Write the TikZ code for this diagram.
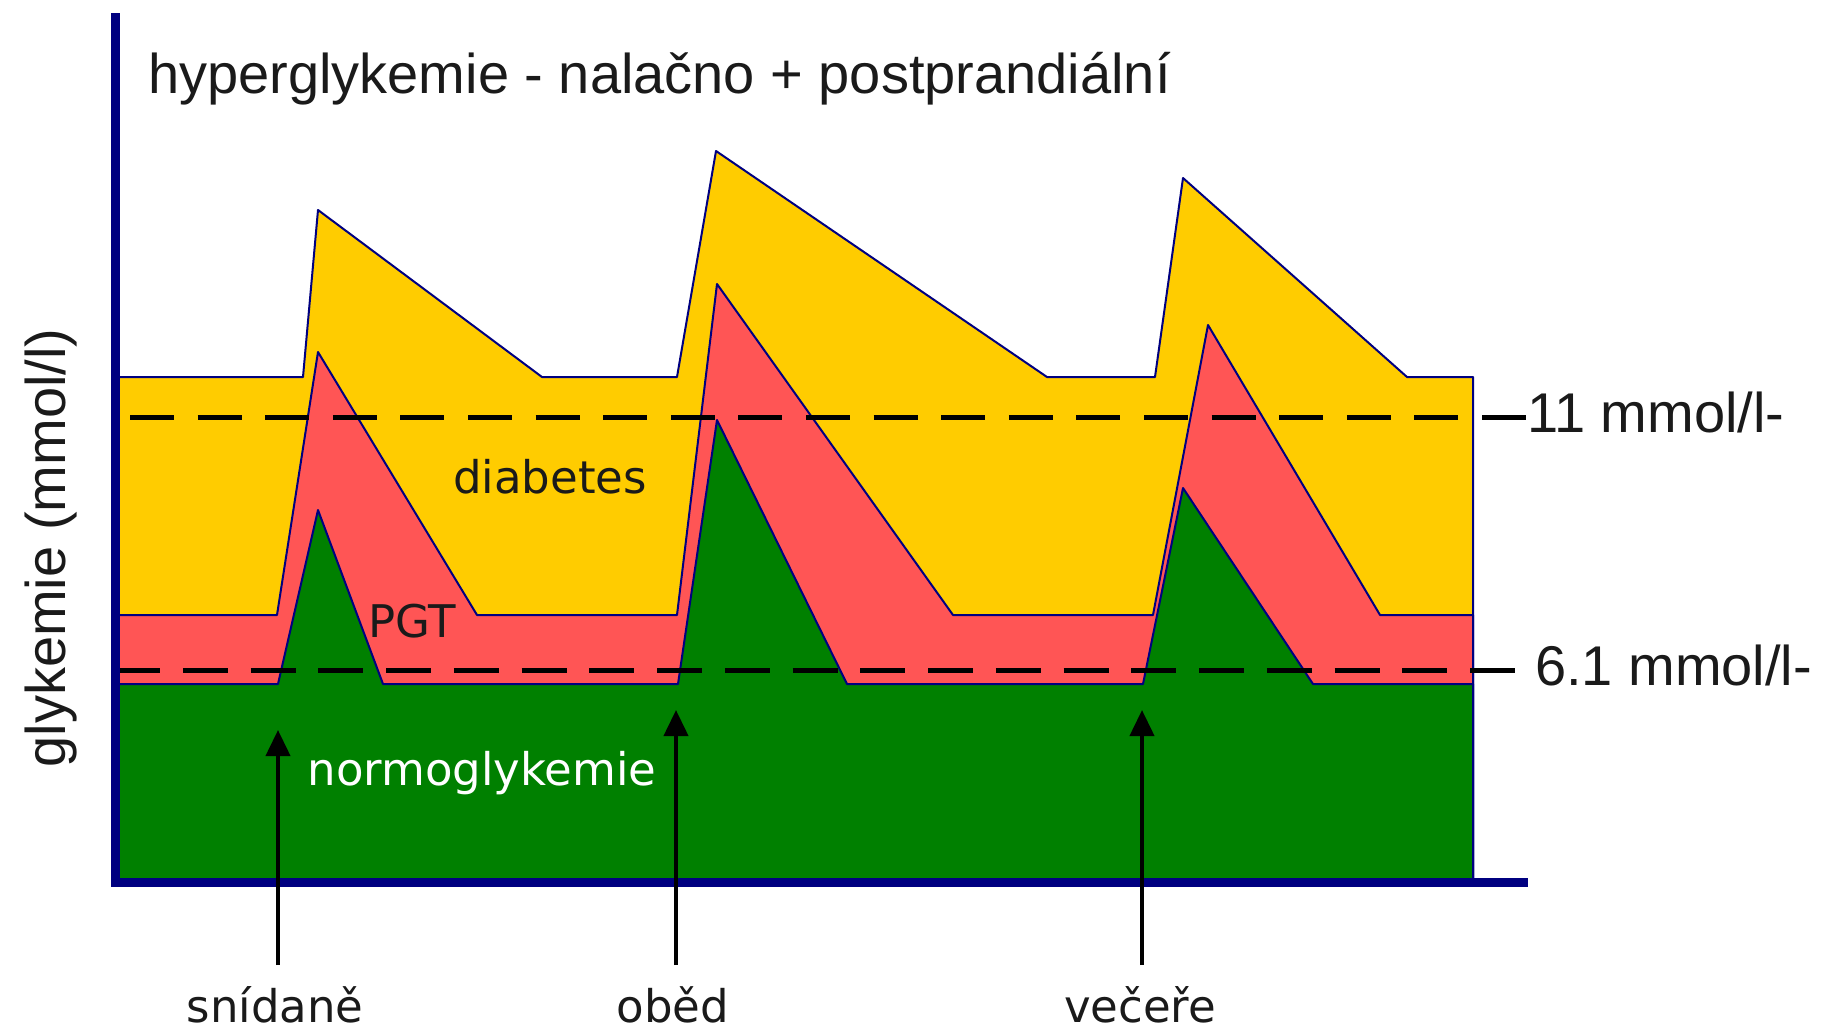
\documentclass[tikz,border=0pt]{standalone}
\usepackage{fontspec}
\newfontfamily\arialf{Liberation Sans}
\newfontfamily\dvsans{DejaVu Sans}
\usetikzlibrary{arrows.meta}
\definecolor{navyc}{HTML}{000080}
\definecolor{yellowc}{HTML}{FFCC00}
\definecolor{redc}{HTML}{FF5555}
\definecolor{greenc}{HTML}{008000}
\definecolor{textc}{HTML}{1A1A1A}
\begin{document}
\begin{tikzpicture}[x=1pt,y=-1pt,
  area/.style={draw=navyc, line width=2pt, line join=round},
  refline/.style={black, line width=5pt},
  axisline/.style={navyc, line width=9pt, line join=miter},
  mealarrow/.style={black, line width=4pt, -{Triangle[width=24pt,length=26pt]}},
  bigtxt/.style={inner sep=0pt, font=\arialf\fontsize{56}{60}\selectfont, text=textc},
  midtxt/.style={inner sep=0pt, font=\dvsans\fontsize{45}{54}\selectfont, text=textc}]
\useasboundingbox (0,0) rectangle (1832,1031);
\fill[white] (0,0) rectangle (1832,1031);

% glycaemia bands
\filldraw[area, fill=yellowc] (115,377) -- (303,377) -- (318,210) -- (542,377) -- (677,377) -- (716,151) -- (1047,377) -- (1155,377) -- (1183,178) -- (1407,377) -- (1473,377) -- (1473,882) -- (115,882) -- cycle;
\filldraw[area, fill=redc] (115,615) -- (277,615) -- (318,352) -- (477,615) -- (677,615) -- (717,284) -- (953,615) -- (1153,615) -- (1208,325) -- (1380,615) -- (1473,615) -- (1473,882) -- (115,882) -- cycle;
\filldraw[area, fill=greenc] (115,684) -- (278,684) -- (318,510) -- (383,684) -- (678,684) -- (717,420) -- (847,684) -- (1143,684) -- (1183,488) -- (1313,684) -- (1473,684) -- (1473,882) -- (115,882) -- cycle;

% reference lines
\coordinate (d11a) at (130,417);
\coordinate (d11b) at (1526,417);
\coordinate (d61a) at (115,670);
\coordinate (d61b) at (1515,670);
\draw[refline, dash pattern=on 44pt off 23.6pt] (d11a) -- (d11b);
\draw[refline, dash pattern=on 45pt off 22.75pt] (d61a) -- (d61b);

% axes
\coordinate (ytop) at (115.5,13);
\coordinate (origin) at (115.5,882.5);
\coordinate (xend) at (1528,882.5);
\draw[axisline] (ytop) -- (origin) -- (xend);

% texts
\node[bigtxt, anchor=base west] (title) at (148,93) {hyperglykemie - nalačno + postprandiální};
\node[bigtxt, anchor=base west] (l11) at (1527,432) {11 mmol/l-};
\node[bigtxt, anchor=base west] (l61) at (1535,685) {6.1 mmol/l-};
\node[bigtxt, rotate=90, anchor=base] (ylab) at (65,548) {glykemie (mmol/l)};

\node[midtxt, anchor=base] (diab) at (550,493) {diabetes};
\node[midtxt, anchor=base] (pgt) at (412,637) {PGT};
\node[midtxt, anchor=base, text=white] (normo) at (482,785) {normoglykemie};

% meals
\node[midtxt, anchor=base] (m1) at (275,1022) {snídaně};
\node[midtxt, anchor=base] (m2) at (673,1022) {oběd};
\node[midtxt, anchor=base] (m3) at (1140,1022) {večeře};
\coordinate (a1s) at (278,965);
\coordinate (a1e) at (278,730);
\coordinate (a2s) at (676,965);
\coordinate (a2e) at (676,710);
\coordinate (a3s) at (1142,965);
\coordinate (a3e) at (1142,710);
\draw[mealarrow] (a1s) -- (a1e);
\draw[mealarrow] (a2s) -- (a2e);
\draw[mealarrow] (a3s) -- (a3e);
\end{tikzpicture}
\end{document}
